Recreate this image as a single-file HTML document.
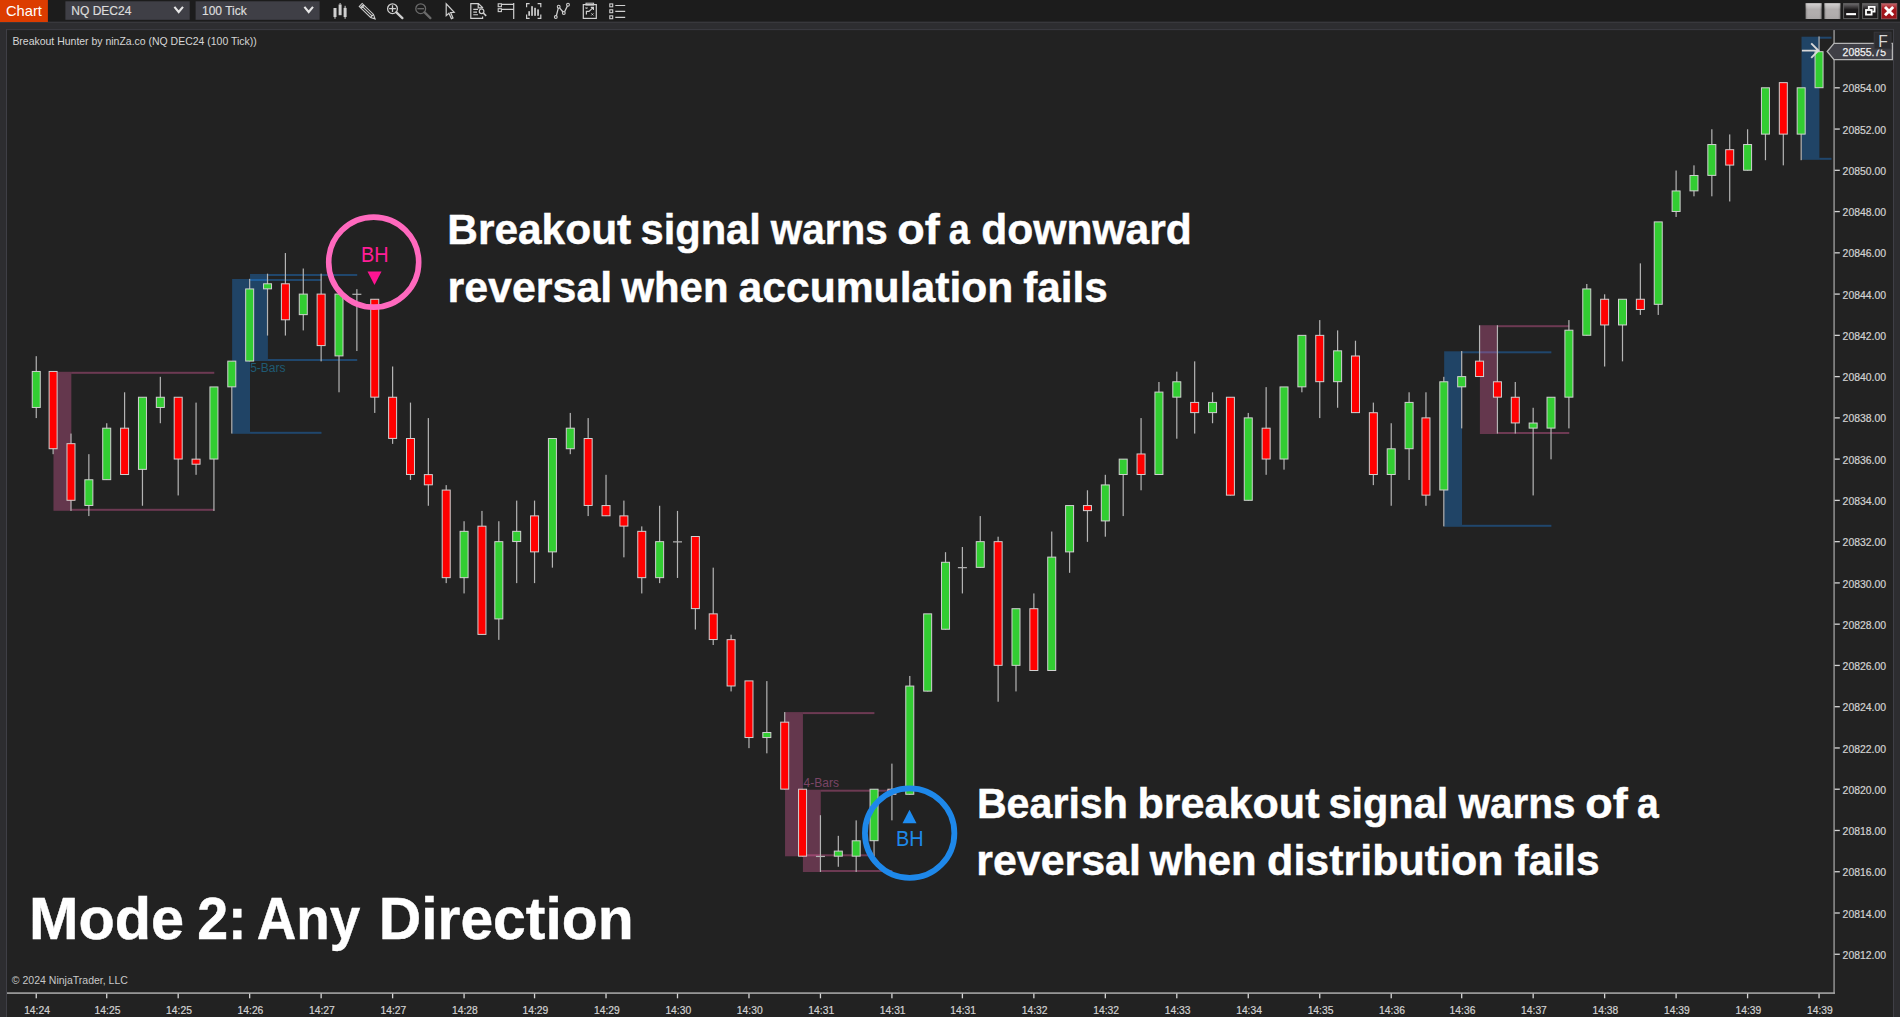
<!DOCTYPE html>
<html lang="en"><head><meta charset="utf-8"><title>Chart</title>
<style>
html,body{margin:0;padding:0;background:#222222;overflow:hidden}
body{width:1900px;height:1017px;position:relative;font-family:"Liberation Sans",Arial,sans-serif}
svg{position:absolute;left:0;top:0;display:block}
text{font-family:"Liberation Sans",Arial,sans-serif}
.ax{fill:#d2d2d2;font-size:10.67px;stroke:#d2d2d2;stroke-width:0.2px}
.big{fill:#ffffff;font-weight:bold;stroke:#ffffff;stroke-width:0.45px}
</style></head><body>
<svg width="1900" height="1017" viewBox="0 0 1900 1017">

<rect x="0" y="0" width="1900" height="1017" fill="#222222"/>
<g id="zones">
<rect x="53.47" y="371.80" width="17.87" height="139.00" fill="rgb(255,105,180)" fill-opacity="0.3"/>
<rect x="71.34" y="371.80" width="142.94" height="2.0" fill="rgb(255,105,180)" fill-opacity="0.34"/>
<rect x="71.34" y="508.80" width="142.94" height="2.0" fill="rgb(255,105,180)" fill-opacity="0.34"/>
<rect x="232.15" y="279.00" width="17.87" height="154.80" fill="rgb(30,144,255)" fill-opacity="0.31"/>
<rect x="250.02" y="279.00" width="71.47" height="2.0" fill="rgb(30,144,255)" fill-opacity="0.34"/>
<rect x="250.02" y="431.80" width="71.47" height="2.0" fill="rgb(30,144,255)" fill-opacity="0.34"/>
<rect x="250.02" y="274.00" width="17.87" height="87.00" fill="rgb(30,144,255)" fill-opacity="0.31"/>
<rect x="267.88" y="274.00" width="89.34" height="2.0" fill="rgb(30,144,255)" fill-opacity="0.34"/>
<rect x="267.88" y="359.00" width="89.34" height="2.0" fill="rgb(30,144,255)" fill-opacity="0.34"/>
<rect x="785.06" y="712.10" width="17.87" height="144.20" fill="rgb(255,105,180)" fill-opacity="0.3"/>
<rect x="802.92" y="712.10" width="71.47" height="2.0" fill="rgb(255,105,180)" fill-opacity="0.34"/>
<rect x="802.92" y="854.30" width="71.47" height="2.0" fill="rgb(255,105,180)" fill-opacity="0.34"/>
<rect x="802.92" y="789.70" width="17.87" height="82.30" fill="rgb(255,105,180)" fill-opacity="0.3"/>
<rect x="820.79" y="789.70" width="71.47" height="2.0" fill="rgb(255,105,180)" fill-opacity="0.34"/>
<rect x="820.79" y="870.00" width="71.47" height="2.0" fill="rgb(255,105,180)" fill-opacity="0.34"/>
<rect x="1444.17" y="351.30" width="17.87" height="175.50" fill="rgb(30,144,255)" fill-opacity="0.31"/>
<rect x="1462.04" y="351.30" width="89.34" height="2.0" fill="rgb(30,144,255)" fill-opacity="0.34"/>
<rect x="1462.04" y="524.80" width="89.34" height="2.0" fill="rgb(30,144,255)" fill-opacity="0.34"/>
<rect x="1479.91" y="325.20" width="17.87" height="108.80" fill="rgb(255,105,180)" fill-opacity="0.3"/>
<rect x="1497.78" y="325.20" width="71.47" height="2.0" fill="rgb(255,105,180)" fill-opacity="0.34"/>
<rect x="1497.78" y="432.00" width="71.47" height="2.0" fill="rgb(255,105,180)" fill-opacity="0.34"/>
<rect x="1801.53" y="36.70" width="17.87" height="123.10" fill="rgb(30,144,255)" fill-opacity="0.31"/>
<rect x="1819.40" y="36.70" width="12.10" height="2.0" fill="rgb(30,144,255)" fill-opacity="0.34"/>
<rect x="1819.40" y="157.80" width="12.10" height="2.0" fill="rgb(30,144,255)" fill-opacity="0.34"/>
<text x="250.2" y="372.4" font-size="12" fill="#1f5a73">5-Bars</text>
<text x="803.6" y="787" font-size="12" fill="#7a4566">4-Bars</text>
</g>
<g id="candles">
<rect x="35.65" y="356.19" width="1.2" height="61.89" fill="#b4b4b4"/>
<rect x="32.25" y="371.46" width="8" height="36.00" fill="#32cd32" stroke="#d0d0d0" stroke-width="1"/>
<rect x="52.52" y="371.66" width="1.2" height="82.52" fill="#b4b4b4"/>
<rect x="49.12" y="371.46" width="8" height="77.26" fill="#ff0000" stroke="#d0d0d0" stroke-width="1"/>
<rect x="70.39" y="433.55" width="1.2" height="77.36" fill="#b4b4b4"/>
<rect x="66.99" y="443.67" width="8" height="56.63" fill="#ff0000" stroke="#d0d0d0" stroke-width="1"/>
<rect x="88.25" y="454.18" width="1.2" height="61.89" fill="#b4b4b4"/>
<rect x="84.85" y="479.77" width="8" height="25.69" fill="#32cd32" stroke="#d0d0d0" stroke-width="1"/>
<rect x="106.12" y="423.24" width="1.2" height="56.73" fill="#b4b4b4"/>
<rect x="102.72" y="428.19" width="8" height="51.47" fill="#32cd32" stroke="#d0d0d0" stroke-width="1"/>
<rect x="123.99" y="392.29" width="1.2" height="82.52" fill="#b4b4b4"/>
<rect x="120.59" y="428.19" width="8" height="46.32" fill="#ff0000" stroke="#d0d0d0" stroke-width="1"/>
<rect x="141.86" y="397.45" width="1.2" height="108.31" fill="#b4b4b4"/>
<rect x="138.46" y="397.25" width="8" height="72.10" fill="#32cd32" stroke="#d0d0d0" stroke-width="1"/>
<rect x="159.73" y="376.82" width="1.2" height="46.42" fill="#b4b4b4"/>
<rect x="156.33" y="397.25" width="8" height="10.21" fill="#32cd32" stroke="#d0d0d0" stroke-width="1"/>
<rect x="177.59" y="397.45" width="1.2" height="97.99" fill="#b4b4b4"/>
<rect x="174.19" y="397.25" width="8" height="61.79" fill="#ff0000" stroke="#d0d0d0" stroke-width="1"/>
<rect x="195.46" y="402.61" width="1.2" height="72.21" fill="#b4b4b4"/>
<rect x="192.06" y="459.14" width="8" height="5.06" fill="#ff0000" stroke="#d0d0d0" stroke-width="1"/>
<rect x="213.33" y="387.13" width="1.2" height="123.78" fill="#b4b4b4"/>
<rect x="209.93" y="386.94" width="8" height="72.10" fill="#32cd32" stroke="#d0d0d0" stroke-width="1"/>
<rect x="231.20" y="361.35" width="1.2" height="72.21" fill="#b4b4b4"/>
<rect x="227.80" y="361.15" width="8" height="25.69" fill="#32cd32" stroke="#d0d0d0" stroke-width="1"/>
<rect x="249.07" y="278.83" width="1.2" height="82.52" fill="#b4b4b4"/>
<rect x="245.67" y="288.94" width="8" height="72.10" fill="#32cd32" stroke="#d0d0d0" stroke-width="1"/>
<rect x="266.93" y="273.67" width="1.2" height="61.89" fill="#b4b4b4"/>
<rect x="263.53" y="283.79" width="8" height="5.06" fill="#32cd32" stroke="#d0d0d0" stroke-width="1"/>
<rect x="284.80" y="253.04" width="1.2" height="82.52" fill="#b4b4b4"/>
<rect x="281.40" y="283.79" width="8" height="36.00" fill="#ff0000" stroke="#d0d0d0" stroke-width="1"/>
<rect x="302.67" y="268.51" width="1.2" height="61.89" fill="#b4b4b4"/>
<rect x="299.27" y="294.10" width="8" height="20.53" fill="#32cd32" stroke="#d0d0d0" stroke-width="1"/>
<rect x="320.54" y="273.67" width="1.2" height="87.68" fill="#b4b4b4"/>
<rect x="317.14" y="294.10" width="8" height="51.48" fill="#ff0000" stroke="#d0d0d0" stroke-width="1"/>
<rect x="338.41" y="294.30" width="1.2" height="97.99" fill="#b4b4b4"/>
<rect x="335.01" y="294.10" width="8" height="61.79" fill="#32cd32" stroke="#d0d0d0" stroke-width="1"/>
<rect x="356.27" y="289.14" width="1.2" height="61.89" fill="#b4b4b4"/>
<rect x="352.37" y="293.70" width="9" height="1.2" fill="#b4b4b4"/>
<rect x="374.14" y="299.46" width="1.2" height="113.46" fill="#b4b4b4"/>
<rect x="370.74" y="299.26" width="8" height="97.89" fill="#ff0000" stroke="#d0d0d0" stroke-width="1"/>
<rect x="392.01" y="366.50" width="1.2" height="77.36" fill="#b4b4b4"/>
<rect x="388.61" y="397.25" width="8" height="41.16" fill="#ff0000" stroke="#d0d0d0" stroke-width="1"/>
<rect x="409.88" y="402.61" width="1.2" height="77.36" fill="#b4b4b4"/>
<rect x="406.48" y="438.51" width="8" height="36.00" fill="#ff0000" stroke="#d0d0d0" stroke-width="1"/>
<rect x="427.75" y="418.08" width="1.2" height="87.68" fill="#b4b4b4"/>
<rect x="424.35" y="474.61" width="8" height="10.21" fill="#ff0000" stroke="#d0d0d0" stroke-width="1"/>
<rect x="445.61" y="485.13" width="1.2" height="97.99" fill="#b4b4b4"/>
<rect x="442.21" y="490.08" width="8" height="87.58" fill="#ff0000" stroke="#d0d0d0" stroke-width="1"/>
<rect x="463.48" y="521.23" width="1.2" height="72.20" fill="#b4b4b4"/>
<rect x="460.08" y="531.34" width="8" height="46.32" fill="#32cd32" stroke="#d0d0d0" stroke-width="1"/>
<rect x="481.35" y="510.91" width="1.2" height="123.78" fill="#b4b4b4"/>
<rect x="477.95" y="526.19" width="8" height="108.21" fill="#ff0000" stroke="#d0d0d0" stroke-width="1"/>
<rect x="498.22" y="521.23" width="1.2" height="118.62" fill="#b4b4b4"/>
<rect x="494.82" y="541.66" width="8" height="77.26" fill="#32cd32" stroke="#d0d0d0" stroke-width="1"/>
<rect x="516.09" y="500.60" width="1.2" height="82.52" fill="#b4b4b4"/>
<rect x="512.69" y="531.34" width="8" height="10.21" fill="#32cd32" stroke="#d0d0d0" stroke-width="1"/>
<rect x="533.95" y="500.60" width="1.2" height="82.52" fill="#b4b4b4"/>
<rect x="530.55" y="515.87" width="8" height="36.00" fill="#ff0000" stroke="#d0d0d0" stroke-width="1"/>
<rect x="551.82" y="438.71" width="1.2" height="128.94" fill="#b4b4b4"/>
<rect x="548.42" y="438.51" width="8" height="113.36" fill="#32cd32" stroke="#d0d0d0" stroke-width="1"/>
<rect x="569.69" y="412.92" width="1.2" height="41.26" fill="#b4b4b4"/>
<rect x="566.29" y="428.19" width="8" height="20.53" fill="#32cd32" stroke="#d0d0d0" stroke-width="1"/>
<rect x="587.56" y="418.08" width="1.2" height="97.99" fill="#b4b4b4"/>
<rect x="584.16" y="438.51" width="8" height="66.95" fill="#ff0000" stroke="#d0d0d0" stroke-width="1"/>
<rect x="605.43" y="474.81" width="1.2" height="41.26" fill="#b4b4b4"/>
<rect x="602.03" y="505.56" width="8" height="10.21" fill="#ff0000" stroke="#d0d0d0" stroke-width="1"/>
<rect x="623.29" y="500.60" width="1.2" height="56.73" fill="#b4b4b4"/>
<rect x="619.89" y="515.87" width="8" height="10.22" fill="#ff0000" stroke="#d0d0d0" stroke-width="1"/>
<rect x="641.16" y="526.39" width="1.2" height="67.05" fill="#b4b4b4"/>
<rect x="637.76" y="531.34" width="8" height="46.32" fill="#ff0000" stroke="#d0d0d0" stroke-width="1"/>
<rect x="659.03" y="505.76" width="1.2" height="77.36" fill="#b4b4b4"/>
<rect x="655.63" y="541.66" width="8" height="36.00" fill="#32cd32" stroke="#d0d0d0" stroke-width="1"/>
<rect x="676.90" y="510.91" width="1.2" height="67.05" fill="#b4b4b4"/>
<rect x="673.00" y="541.26" width="9" height="1.2" fill="#b4b4b4"/>
<rect x="694.77" y="536.70" width="1.2" height="92.84" fill="#b4b4b4"/>
<rect x="691.37" y="536.50" width="8" height="72.11" fill="#ff0000" stroke="#d0d0d0" stroke-width="1"/>
<rect x="712.63" y="567.65" width="1.2" height="77.36" fill="#b4b4b4"/>
<rect x="709.23" y="613.86" width="8" height="25.69" fill="#ff0000" stroke="#d0d0d0" stroke-width="1"/>
<rect x="730.50" y="634.69" width="1.2" height="56.73" fill="#b4b4b4"/>
<rect x="727.10" y="639.65" width="8" height="46.32" fill="#ff0000" stroke="#d0d0d0" stroke-width="1"/>
<rect x="748.37" y="681.11" width="1.2" height="67.05" fill="#b4b4b4"/>
<rect x="744.97" y="680.91" width="8" height="56.63" fill="#ff0000" stroke="#d0d0d0" stroke-width="1"/>
<rect x="766.24" y="681.11" width="1.2" height="72.21" fill="#b4b4b4"/>
<rect x="762.84" y="732.49" width="8" height="5.06" fill="#32cd32" stroke="#d0d0d0" stroke-width="1"/>
<rect x="784.11" y="712.06" width="1.2" height="77.36" fill="#b4b4b4"/>
<rect x="780.71" y="722.17" width="8" height="66.95" fill="#ff0000" stroke="#d0d0d0" stroke-width="1"/>
<rect x="801.97" y="789.42" width="1.2" height="67.05" fill="#b4b4b4"/>
<rect x="798.57" y="789.22" width="8" height="66.95" fill="#ff0000" stroke="#d0d0d0" stroke-width="1"/>
<rect x="819.84" y="815.21" width="1.2" height="56.73" fill="#b4b4b4"/>
<rect x="815.94" y="855.87" width="9" height="1.2" fill="#b4b4b4"/>
<rect x="837.71" y="835.84" width="1.2" height="30.94" fill="#b4b4b4"/>
<rect x="834.31" y="851.11" width="8" height="5.06" fill="#32cd32" stroke="#d0d0d0" stroke-width="1"/>
<rect x="855.58" y="820.37" width="1.2" height="51.57" fill="#b4b4b4"/>
<rect x="852.18" y="840.79" width="8" height="15.37" fill="#32cd32" stroke="#d0d0d0" stroke-width="1"/>
<rect x="873.45" y="789.42" width="1.2" height="67.05" fill="#b4b4b4"/>
<rect x="870.05" y="789.22" width="8" height="51.48" fill="#32cd32" stroke="#d0d0d0" stroke-width="1"/>
<rect x="891.31" y="763.63" width="1.2" height="56.73" fill="#b4b4b4"/>
<rect x="887.91" y="789.22" width="8" height="5.06" fill="#ff0000" stroke="#d0d0d0" stroke-width="1"/>
<rect x="909.18" y="675.95" width="1.2" height="118.62" fill="#b4b4b4"/>
<rect x="905.78" y="686.07" width="8" height="108.21" fill="#32cd32" stroke="#d0d0d0" stroke-width="1"/>
<rect x="927.05" y="614.06" width="1.2" height="77.36" fill="#b4b4b4"/>
<rect x="923.65" y="613.86" width="8" height="77.26" fill="#32cd32" stroke="#d0d0d0" stroke-width="1"/>
<rect x="944.92" y="552.17" width="1.2" height="77.36" fill="#b4b4b4"/>
<rect x="941.52" y="562.29" width="8" height="66.95" fill="#32cd32" stroke="#d0d0d0" stroke-width="1"/>
<rect x="961.79" y="547.02" width="1.2" height="46.42" fill="#b4b4b4"/>
<rect x="957.89" y="567.05" width="9" height="1.2" fill="#b4b4b4"/>
<rect x="979.65" y="516.07" width="1.2" height="51.58" fill="#b4b4b4"/>
<rect x="976.25" y="541.66" width="8" height="25.69" fill="#32cd32" stroke="#d0d0d0" stroke-width="1"/>
<rect x="997.52" y="536.70" width="1.2" height="165.04" fill="#b4b4b4"/>
<rect x="994.12" y="541.66" width="8" height="123.68" fill="#ff0000" stroke="#d0d0d0" stroke-width="1"/>
<rect x="1015.39" y="608.91" width="1.2" height="82.52" fill="#b4b4b4"/>
<rect x="1011.99" y="608.71" width="8" height="56.63" fill="#32cd32" stroke="#d0d0d0" stroke-width="1"/>
<rect x="1033.26" y="593.43" width="1.2" height="77.36" fill="#b4b4b4"/>
<rect x="1029.86" y="608.71" width="8" height="61.79" fill="#ff0000" stroke="#d0d0d0" stroke-width="1"/>
<rect x="1051.13" y="531.54" width="1.2" height="139.25" fill="#b4b4b4"/>
<rect x="1047.73" y="557.13" width="8" height="113.37" fill="#32cd32" stroke="#d0d0d0" stroke-width="1"/>
<rect x="1068.99" y="505.76" width="1.2" height="67.05" fill="#b4b4b4"/>
<rect x="1065.59" y="505.56" width="8" height="46.32" fill="#32cd32" stroke="#d0d0d0" stroke-width="1"/>
<rect x="1086.86" y="490.28" width="1.2" height="51.57" fill="#b4b4b4"/>
<rect x="1083.46" y="505.56" width="8" height="5.06" fill="#ff0000" stroke="#d0d0d0" stroke-width="1"/>
<rect x="1104.73" y="474.81" width="1.2" height="61.89" fill="#b4b4b4"/>
<rect x="1101.33" y="484.93" width="8" height="36.00" fill="#32cd32" stroke="#d0d0d0" stroke-width="1"/>
<rect x="1122.60" y="459.34" width="1.2" height="56.73" fill="#b4b4b4"/>
<rect x="1119.20" y="459.14" width="8" height="15.37" fill="#32cd32" stroke="#d0d0d0" stroke-width="1"/>
<rect x="1140.47" y="418.08" width="1.2" height="72.20" fill="#b4b4b4"/>
<rect x="1137.07" y="453.98" width="8" height="20.53" fill="#ff0000" stroke="#d0d0d0" stroke-width="1"/>
<rect x="1158.33" y="381.98" width="1.2" height="92.84" fill="#b4b4b4"/>
<rect x="1154.93" y="392.09" width="8" height="82.42" fill="#32cd32" stroke="#d0d0d0" stroke-width="1"/>
<rect x="1176.20" y="371.66" width="1.2" height="67.05" fill="#b4b4b4"/>
<rect x="1172.80" y="381.78" width="8" height="15.37" fill="#32cd32" stroke="#d0d0d0" stroke-width="1"/>
<rect x="1194.07" y="361.35" width="1.2" height="72.21" fill="#b4b4b4"/>
<rect x="1190.67" y="402.41" width="8" height="10.21" fill="#ff0000" stroke="#d0d0d0" stroke-width="1"/>
<rect x="1211.94" y="392.29" width="1.2" height="30.95" fill="#b4b4b4"/>
<rect x="1208.54" y="402.41" width="8" height="10.21" fill="#32cd32" stroke="#d0d0d0" stroke-width="1"/>
<rect x="1229.81" y="397.45" width="1.2" height="97.99" fill="#b4b4b4"/>
<rect x="1226.41" y="397.25" width="8" height="97.89" fill="#ff0000" stroke="#d0d0d0" stroke-width="1"/>
<rect x="1247.67" y="412.92" width="1.2" height="87.68" fill="#b4b4b4"/>
<rect x="1244.27" y="417.88" width="8" height="82.42" fill="#32cd32" stroke="#d0d0d0" stroke-width="1"/>
<rect x="1265.54" y="387.13" width="1.2" height="87.68" fill="#b4b4b4"/>
<rect x="1262.14" y="428.19" width="8" height="30.84" fill="#ff0000" stroke="#d0d0d0" stroke-width="1"/>
<rect x="1283.41" y="387.13" width="1.2" height="82.52" fill="#b4b4b4"/>
<rect x="1280.01" y="386.94" width="8" height="72.10" fill="#32cd32" stroke="#d0d0d0" stroke-width="1"/>
<rect x="1301.28" y="335.56" width="1.2" height="56.73" fill="#b4b4b4"/>
<rect x="1297.88" y="335.36" width="8" height="51.47" fill="#32cd32" stroke="#d0d0d0" stroke-width="1"/>
<rect x="1319.15" y="320.09" width="1.2" height="97.99" fill="#b4b4b4"/>
<rect x="1315.75" y="335.36" width="8" height="46.32" fill="#ff0000" stroke="#d0d0d0" stroke-width="1"/>
<rect x="1337.01" y="330.40" width="1.2" height="77.36" fill="#b4b4b4"/>
<rect x="1333.61" y="350.83" width="8" height="30.84" fill="#32cd32" stroke="#d0d0d0" stroke-width="1"/>
<rect x="1354.88" y="340.72" width="1.2" height="72.20" fill="#b4b4b4"/>
<rect x="1351.48" y="355.99" width="8" height="56.63" fill="#ff0000" stroke="#d0d0d0" stroke-width="1"/>
<rect x="1372.75" y="402.61" width="1.2" height="82.52" fill="#b4b4b4"/>
<rect x="1369.35" y="412.72" width="8" height="61.79" fill="#ff0000" stroke="#d0d0d0" stroke-width="1"/>
<rect x="1390.62" y="423.24" width="1.2" height="82.52" fill="#b4b4b4"/>
<rect x="1387.22" y="448.82" width="8" height="25.69" fill="#32cd32" stroke="#d0d0d0" stroke-width="1"/>
<rect x="1408.49" y="392.29" width="1.2" height="87.68" fill="#b4b4b4"/>
<rect x="1405.09" y="402.41" width="8" height="46.32" fill="#32cd32" stroke="#d0d0d0" stroke-width="1"/>
<rect x="1425.35" y="392.29" width="1.2" height="113.47" fill="#b4b4b4"/>
<rect x="1421.95" y="417.88" width="8" height="77.26" fill="#ff0000" stroke="#d0d0d0" stroke-width="1"/>
<rect x="1443.22" y="376.82" width="1.2" height="149.57" fill="#b4b4b4"/>
<rect x="1439.82" y="381.78" width="8" height="108.21" fill="#32cd32" stroke="#d0d0d0" stroke-width="1"/>
<rect x="1461.09" y="351.03" width="1.2" height="77.36" fill="#b4b4b4"/>
<rect x="1457.69" y="376.62" width="8" height="10.21" fill="#32cd32" stroke="#d0d0d0" stroke-width="1"/>
<rect x="1478.96" y="325.25" width="1.2" height="51.57" fill="#b4b4b4"/>
<rect x="1475.56" y="361.15" width="8" height="15.37" fill="#ff0000" stroke="#d0d0d0" stroke-width="1"/>
<rect x="1496.83" y="325.25" width="1.2" height="108.31" fill="#b4b4b4"/>
<rect x="1493.43" y="381.78" width="8" height="15.37" fill="#ff0000" stroke="#d0d0d0" stroke-width="1"/>
<rect x="1514.69" y="381.98" width="1.2" height="51.58" fill="#b4b4b4"/>
<rect x="1511.29" y="397.25" width="8" height="25.69" fill="#ff0000" stroke="#d0d0d0" stroke-width="1"/>
<rect x="1532.56" y="407.76" width="1.2" height="87.68" fill="#b4b4b4"/>
<rect x="1529.16" y="423.04" width="8" height="5.06" fill="#32cd32" stroke="#d0d0d0" stroke-width="1"/>
<rect x="1550.43" y="397.45" width="1.2" height="61.89" fill="#b4b4b4"/>
<rect x="1547.03" y="397.25" width="8" height="30.84" fill="#32cd32" stroke="#d0d0d0" stroke-width="1"/>
<rect x="1568.30" y="320.09" width="1.2" height="108.31" fill="#b4b4b4"/>
<rect x="1564.90" y="330.20" width="8" height="66.95" fill="#32cd32" stroke="#d0d0d0" stroke-width="1"/>
<rect x="1586.17" y="283.99" width="1.2" height="51.57" fill="#b4b4b4"/>
<rect x="1582.77" y="288.94" width="8" height="46.32" fill="#32cd32" stroke="#d0d0d0" stroke-width="1"/>
<rect x="1604.03" y="294.30" width="1.2" height="72.21" fill="#b4b4b4"/>
<rect x="1600.63" y="299.26" width="8" height="25.69" fill="#ff0000" stroke="#d0d0d0" stroke-width="1"/>
<rect x="1621.90" y="299.46" width="1.2" height="61.89" fill="#b4b4b4"/>
<rect x="1618.50" y="299.26" width="8" height="25.69" fill="#32cd32" stroke="#d0d0d0" stroke-width="1"/>
<rect x="1639.77" y="263.36" width="1.2" height="51.57" fill="#b4b4b4"/>
<rect x="1636.37" y="299.26" width="8" height="10.21" fill="#ff0000" stroke="#d0d0d0" stroke-width="1"/>
<rect x="1657.64" y="222.09" width="1.2" height="92.83" fill="#b4b4b4"/>
<rect x="1654.24" y="221.90" width="8" height="82.42" fill="#32cd32" stroke="#d0d0d0" stroke-width="1"/>
<rect x="1675.51" y="170.52" width="1.2" height="46.42" fill="#b4b4b4"/>
<rect x="1672.11" y="190.95" width="8" height="20.53" fill="#32cd32" stroke="#d0d0d0" stroke-width="1"/>
<rect x="1693.37" y="165.36" width="1.2" height="30.94" fill="#b4b4b4"/>
<rect x="1689.97" y="175.48" width="8" height="15.37" fill="#32cd32" stroke="#d0d0d0" stroke-width="1"/>
<rect x="1711.24" y="129.26" width="1.2" height="67.05" fill="#b4b4b4"/>
<rect x="1707.84" y="144.53" width="8" height="30.85" fill="#32cd32" stroke="#d0d0d0" stroke-width="1"/>
<rect x="1729.11" y="134.42" width="1.2" height="67.05" fill="#b4b4b4"/>
<rect x="1725.71" y="149.69" width="8" height="15.37" fill="#ff0000" stroke="#d0d0d0" stroke-width="1"/>
<rect x="1746.98" y="129.26" width="1.2" height="41.26" fill="#b4b4b4"/>
<rect x="1743.58" y="144.53" width="8" height="25.69" fill="#32cd32" stroke="#d0d0d0" stroke-width="1"/>
<rect x="1764.85" y="88.00" width="1.2" height="72.20" fill="#b4b4b4"/>
<rect x="1761.45" y="87.80" width="8" height="46.32" fill="#32cd32" stroke="#d0d0d0" stroke-width="1"/>
<rect x="1782.71" y="82.84" width="1.2" height="82.52" fill="#b4b4b4"/>
<rect x="1779.31" y="82.64" width="8" height="51.47" fill="#ff0000" stroke="#d0d0d0" stroke-width="1"/>
<rect x="1800.58" y="88.00" width="1.2" height="72.20" fill="#b4b4b4"/>
<rect x="1797.18" y="87.80" width="8" height="46.32" fill="#32cd32" stroke="#d0d0d0" stroke-width="1"/>
<rect x="1818.45" y="36.43" width="1.2" height="51.57" fill="#b4b4b4"/>
<rect x="1815.05" y="51.70" width="8" height="36.00" fill="#32cd32" stroke="#d0d0d0" stroke-width="1"/>
</g>
<g id="axes">
<rect x="1833.3" y="30" width="1.6" height="963.8" fill="#8a8a8a"/>
<rect x="7" y="992.3" width="1827.9" height="1.6" fill="#a4a4a4"/>
<rect x="1834.6" y="87.15" width="5.2" height="1.3" fill="#d4d4d4"/>
<text class="ax" x="1842.6" y="92.40" textLength="43.5" lengthAdjust="spacingAndGlyphs">20854.00</text>
<rect x="1834.6" y="128.41" width="5.2" height="1.3" fill="#d4d4d4"/>
<text class="ax" x="1842.6" y="133.66" textLength="43.5" lengthAdjust="spacingAndGlyphs">20852.00</text>
<rect x="1834.6" y="169.67" width="5.2" height="1.3" fill="#d4d4d4"/>
<text class="ax" x="1842.6" y="174.92" textLength="43.5" lengthAdjust="spacingAndGlyphs">20850.00</text>
<rect x="1834.6" y="210.93" width="5.2" height="1.3" fill="#d4d4d4"/>
<text class="ax" x="1842.6" y="216.18" textLength="43.5" lengthAdjust="spacingAndGlyphs">20848.00</text>
<rect x="1834.6" y="252.19" width="5.2" height="1.3" fill="#d4d4d4"/>
<text class="ax" x="1842.6" y="257.44" textLength="43.5" lengthAdjust="spacingAndGlyphs">20846.00</text>
<rect x="1834.6" y="293.45" width="5.2" height="1.3" fill="#d4d4d4"/>
<text class="ax" x="1842.6" y="298.70" textLength="43.5" lengthAdjust="spacingAndGlyphs">20844.00</text>
<rect x="1834.6" y="334.71" width="5.2" height="1.3" fill="#d4d4d4"/>
<text class="ax" x="1842.6" y="339.96" textLength="43.5" lengthAdjust="spacingAndGlyphs">20842.00</text>
<rect x="1834.6" y="375.97" width="5.2" height="1.3" fill="#d4d4d4"/>
<text class="ax" x="1842.6" y="381.22" textLength="43.5" lengthAdjust="spacingAndGlyphs">20840.00</text>
<rect x="1834.6" y="417.23" width="5.2" height="1.3" fill="#d4d4d4"/>
<text class="ax" x="1842.6" y="422.48" textLength="43.5" lengthAdjust="spacingAndGlyphs">20838.00</text>
<rect x="1834.6" y="458.49" width="5.2" height="1.3" fill="#d4d4d4"/>
<text class="ax" x="1842.6" y="463.74" textLength="43.5" lengthAdjust="spacingAndGlyphs">20836.00</text>
<rect x="1834.6" y="499.75" width="5.2" height="1.3" fill="#d4d4d4"/>
<text class="ax" x="1842.6" y="505.00" textLength="43.5" lengthAdjust="spacingAndGlyphs">20834.00</text>
<rect x="1834.6" y="541.01" width="5.2" height="1.3" fill="#d4d4d4"/>
<text class="ax" x="1842.6" y="546.26" textLength="43.5" lengthAdjust="spacingAndGlyphs">20832.00</text>
<rect x="1834.6" y="582.27" width="5.2" height="1.3" fill="#d4d4d4"/>
<text class="ax" x="1842.6" y="587.52" textLength="43.5" lengthAdjust="spacingAndGlyphs">20830.00</text>
<rect x="1834.6" y="623.53" width="5.2" height="1.3" fill="#d4d4d4"/>
<text class="ax" x="1842.6" y="628.78" textLength="43.5" lengthAdjust="spacingAndGlyphs">20828.00</text>
<rect x="1834.6" y="664.79" width="5.2" height="1.3" fill="#d4d4d4"/>
<text class="ax" x="1842.6" y="670.04" textLength="43.5" lengthAdjust="spacingAndGlyphs">20826.00</text>
<rect x="1834.6" y="706.05" width="5.2" height="1.3" fill="#d4d4d4"/>
<text class="ax" x="1842.6" y="711.30" textLength="43.5" lengthAdjust="spacingAndGlyphs">20824.00</text>
<rect x="1834.6" y="747.31" width="5.2" height="1.3" fill="#d4d4d4"/>
<text class="ax" x="1842.6" y="752.56" textLength="43.5" lengthAdjust="spacingAndGlyphs">20822.00</text>
<rect x="1834.6" y="788.57" width="5.2" height="1.3" fill="#d4d4d4"/>
<text class="ax" x="1842.6" y="793.82" textLength="43.5" lengthAdjust="spacingAndGlyphs">20820.00</text>
<rect x="1834.6" y="829.83" width="5.2" height="1.3" fill="#d4d4d4"/>
<text class="ax" x="1842.6" y="835.08" textLength="43.5" lengthAdjust="spacingAndGlyphs">20818.00</text>
<rect x="1834.6" y="871.09" width="5.2" height="1.3" fill="#d4d4d4"/>
<text class="ax" x="1842.6" y="876.34" textLength="43.5" lengthAdjust="spacingAndGlyphs">20816.00</text>
<rect x="1834.6" y="912.35" width="5.2" height="1.3" fill="#d4d4d4"/>
<text class="ax" x="1842.6" y="917.60" textLength="43.5" lengthAdjust="spacingAndGlyphs">20814.00</text>
<rect x="1834.6" y="953.61" width="5.2" height="1.3" fill="#d4d4d4"/>
<text class="ax" x="1842.6" y="958.86" textLength="43.5" lengthAdjust="spacingAndGlyphs">20812.00</text>
<rect x="35.60" y="993.6" width="1.3" height="4.7" fill="#d4d4d4"/>
<text class="ax" x="37.05" y="1014.2" text-anchor="middle" textLength="25.8" lengthAdjust="spacingAndGlyphs">14:24</text>
<rect x="106.07" y="993.6" width="1.3" height="4.7" fill="#d4d4d4"/>
<text class="ax" x="107.52" y="1014.2" text-anchor="middle" textLength="25.8" lengthAdjust="spacingAndGlyphs">14:25</text>
<rect x="177.54" y="993.6" width="1.3" height="4.7" fill="#d4d4d4"/>
<text class="ax" x="178.99" y="1014.2" text-anchor="middle" textLength="25.8" lengthAdjust="spacingAndGlyphs">14:25</text>
<rect x="249.02" y="993.6" width="1.3" height="4.7" fill="#d4d4d4"/>
<text class="ax" x="250.47" y="1014.2" text-anchor="middle" textLength="25.8" lengthAdjust="spacingAndGlyphs">14:26</text>
<rect x="320.49" y="993.6" width="1.3" height="4.7" fill="#d4d4d4"/>
<text class="ax" x="321.94" y="1014.2" text-anchor="middle" textLength="25.8" lengthAdjust="spacingAndGlyphs">14:27</text>
<rect x="391.96" y="993.6" width="1.3" height="4.7" fill="#d4d4d4"/>
<text class="ax" x="393.41" y="1014.2" text-anchor="middle" textLength="25.8" lengthAdjust="spacingAndGlyphs">14:27</text>
<rect x="463.43" y="993.6" width="1.3" height="4.7" fill="#d4d4d4"/>
<text class="ax" x="464.88" y="1014.2" text-anchor="middle" textLength="25.8" lengthAdjust="spacingAndGlyphs">14:28</text>
<rect x="533.90" y="993.6" width="1.3" height="4.7" fill="#d4d4d4"/>
<text class="ax" x="535.35" y="1014.2" text-anchor="middle" textLength="25.8" lengthAdjust="spacingAndGlyphs">14:29</text>
<rect x="605.38" y="993.6" width="1.3" height="4.7" fill="#d4d4d4"/>
<text class="ax" x="606.83" y="1014.2" text-anchor="middle" textLength="25.8" lengthAdjust="spacingAndGlyphs">14:29</text>
<rect x="676.85" y="993.6" width="1.3" height="4.7" fill="#d4d4d4"/>
<text class="ax" x="678.30" y="1014.2" text-anchor="middle" textLength="25.8" lengthAdjust="spacingAndGlyphs">14:30</text>
<rect x="748.32" y="993.6" width="1.3" height="4.7" fill="#d4d4d4"/>
<text class="ax" x="749.77" y="1014.2" text-anchor="middle" textLength="25.8" lengthAdjust="spacingAndGlyphs">14:30</text>
<rect x="819.79" y="993.6" width="1.3" height="4.7" fill="#d4d4d4"/>
<text class="ax" x="821.24" y="1014.2" text-anchor="middle" textLength="25.8" lengthAdjust="spacingAndGlyphs">14:31</text>
<rect x="891.26" y="993.6" width="1.3" height="4.7" fill="#d4d4d4"/>
<text class="ax" x="892.71" y="1014.2" text-anchor="middle" textLength="25.8" lengthAdjust="spacingAndGlyphs">14:31</text>
<rect x="961.74" y="993.6" width="1.3" height="4.7" fill="#d4d4d4"/>
<text class="ax" x="963.19" y="1014.2" text-anchor="middle" textLength="25.8" lengthAdjust="spacingAndGlyphs">14:31</text>
<rect x="1033.21" y="993.6" width="1.3" height="4.7" fill="#d4d4d4"/>
<text class="ax" x="1034.66" y="1014.2" text-anchor="middle" textLength="25.8" lengthAdjust="spacingAndGlyphs">14:32</text>
<rect x="1104.68" y="993.6" width="1.3" height="4.7" fill="#d4d4d4"/>
<text class="ax" x="1106.13" y="1014.2" text-anchor="middle" textLength="25.8" lengthAdjust="spacingAndGlyphs">14:32</text>
<rect x="1176.15" y="993.6" width="1.3" height="4.7" fill="#d4d4d4"/>
<text class="ax" x="1177.60" y="1014.2" text-anchor="middle" textLength="25.8" lengthAdjust="spacingAndGlyphs">14:33</text>
<rect x="1247.62" y="993.6" width="1.3" height="4.7" fill="#d4d4d4"/>
<text class="ax" x="1249.07" y="1014.2" text-anchor="middle" textLength="25.8" lengthAdjust="spacingAndGlyphs">14:34</text>
<rect x="1319.10" y="993.6" width="1.3" height="4.7" fill="#d4d4d4"/>
<text class="ax" x="1320.55" y="1014.2" text-anchor="middle" textLength="25.8" lengthAdjust="spacingAndGlyphs">14:35</text>
<rect x="1390.57" y="993.6" width="1.3" height="4.7" fill="#d4d4d4"/>
<text class="ax" x="1392.02" y="1014.2" text-anchor="middle" textLength="25.8" lengthAdjust="spacingAndGlyphs">14:36</text>
<rect x="1461.04" y="993.6" width="1.3" height="4.7" fill="#d4d4d4"/>
<text class="ax" x="1462.49" y="1014.2" text-anchor="middle" textLength="25.8" lengthAdjust="spacingAndGlyphs">14:36</text>
<rect x="1532.51" y="993.6" width="1.3" height="4.7" fill="#d4d4d4"/>
<text class="ax" x="1533.96" y="1014.2" text-anchor="middle" textLength="25.8" lengthAdjust="spacingAndGlyphs">14:37</text>
<rect x="1603.98" y="993.6" width="1.3" height="4.7" fill="#d4d4d4"/>
<text class="ax" x="1605.43" y="1014.2" text-anchor="middle" textLength="25.8" lengthAdjust="spacingAndGlyphs">14:38</text>
<rect x="1675.46" y="993.6" width="1.3" height="4.7" fill="#d4d4d4"/>
<text class="ax" x="1676.91" y="1014.2" text-anchor="middle" textLength="25.8" lengthAdjust="spacingAndGlyphs">14:39</text>
<rect x="1746.93" y="993.6" width="1.3" height="4.7" fill="#d4d4d4"/>
<text class="ax" x="1748.38" y="1014.2" text-anchor="middle" textLength="25.8" lengthAdjust="spacingAndGlyphs">14:39</text>
<rect x="1818.40" y="993.6" width="1.3" height="4.7" fill="#d4d4d4"/>
<text class="ax" x="1819.85" y="1014.2" text-anchor="middle" textLength="25.8" lengthAdjust="spacingAndGlyphs">14:39</text>
</g>
<g id="marker">
<path d="M1827.2 51.5 L1834 43.4 L1892.4 43.4 L1892.4 59.7 L1834 59.7 Z" fill="#3f3f46" stroke="#b4b4b4" stroke-width="1.3" stroke-linejoin="miter"/>
<text x="1842.6" y="55.6" font-size="10.67" fill="#f0f0f0" stroke="#f0f0f0" stroke-width="0.25" textLength="43.5" lengthAdjust="spacingAndGlyphs">20855.75</text>
<path d="M1801.9 50.6 H1818 M1811.2 43.3 L1818.4 50.6 L1811.2 57.8" fill="none" stroke="#d8d8d8" stroke-width="1.9"/>
<rect x="1874.2" y="32.2" width="16.8" height="16.8" fill="#2d2d30" stroke="#38383c" stroke-width="1"/>
<text x="1878.3" y="46.9" font-size="15.6" fill="#d8d8d8">F</text>
</g>
<g id="annot">
<circle cx="373.7" cy="262.15" r="45" fill="none" stroke="#ff69be" stroke-width="5.6"/>
<text x="374.7" y="262.4" font-size="21.4" fill="#ff1e96" text-anchor="middle" textLength="27.6" lengthAdjust="spacingAndGlyphs">BH</text>
<path d="M367.5 271.4 H381.5 L374.5 285 Z" fill="#ff1493"/>
<circle cx="909.65" cy="833.15" r="44.7" fill="none" stroke="#1e88ea" stroke-width="5.8"/>
<text x="909.7" y="845.8" font-size="21.2" fill="#1e88ea" text-anchor="middle" textLength="27.6" lengthAdjust="spacingAndGlyphs">BH</text>
<path d="M902.5 823.2 H916.5 L909.5 809.8 Z" fill="#1e8cf0"/>
<text class="big" x="447.28" y="244.3" font-size="42.5" textLength="183.91" lengthAdjust="spacingAndGlyphs">Breakout</text>
<text class="big" x="640.47" y="244.3" font-size="42.5" textLength="120.38" lengthAdjust="spacingAndGlyphs">signal</text>
<text class="big" x="770.87" y="244.3" font-size="42.5" textLength="117.01" lengthAdjust="spacingAndGlyphs">warns</text>
<text class="big" x="897.38" y="244.3" font-size="42.5" textLength="42.47" lengthAdjust="spacingAndGlyphs">of</text>
<text class="big" x="948.83" y="244.3" font-size="42.5" textLength="21.03" lengthAdjust="spacingAndGlyphs">a</text>
<text class="big" x="981.35" y="244.3" font-size="42.5" textLength="210.50" lengthAdjust="spacingAndGlyphs">downward</text>
<text class="big" x="447.55" y="301.5" font-size="42.5" textLength="164.65" lengthAdjust="spacingAndGlyphs">reversal</text>
<text class="big" x="621.43" y="301.5" font-size="42.5" textLength="107.08" lengthAdjust="spacingAndGlyphs">when</text>
<text class="big" x="738.51" y="301.5" font-size="42.5" textLength="274.82" lengthAdjust="spacingAndGlyphs">accumulation</text>
<text class="big" x="1023.23" y="301.5" font-size="42.5" textLength="84.58" lengthAdjust="spacingAndGlyphs">fails</text>
<text class="big" x="976.88" y="818.1" font-size="42.5" textLength="151.02" lengthAdjust="spacingAndGlyphs">Bearish</text>
<text class="big" x="1137.48" y="818.1" font-size="42.5" textLength="182.01" lengthAdjust="spacingAndGlyphs">breakout</text>
<text class="big" x="1328.47" y="818.1" font-size="42.5" textLength="119.74" lengthAdjust="spacingAndGlyphs">signal</text>
<text class="big" x="1458.40" y="818.1" font-size="42.5" textLength="117.14" lengthAdjust="spacingAndGlyphs">warns</text>
<text class="big" x="1585.38" y="818.1" font-size="42.5" textLength="42.47" lengthAdjust="spacingAndGlyphs">of</text>
<text class="big" x="1636.94" y="818.1" font-size="42.5" textLength="21.72" lengthAdjust="spacingAndGlyphs">a</text>
<text class="big" x="976.37" y="875.2" font-size="42.5" textLength="164.44" lengthAdjust="spacingAndGlyphs">reversal</text>
<text class="big" x="1149.66" y="875.2" font-size="42.5" textLength="106.98" lengthAdjust="spacingAndGlyphs">when</text>
<text class="big" x="1267.11" y="875.2" font-size="42.5" textLength="236.49" lengthAdjust="spacingAndGlyphs">distribution</text>
<text class="big" x="1514.49" y="875.2" font-size="42.5" textLength="85.10" lengthAdjust="spacingAndGlyphs">fails</text>
<text class="big" x="29.02" y="939.0" font-size="58.3" textLength="155.15" lengthAdjust="spacingAndGlyphs">Mode</text>
<text class="big" x="197.18" y="939.0" font-size="58.3" textLength="49.40" lengthAdjust="spacingAndGlyphs">2:</text>
<text class="big" x="256.75" y="939.0" font-size="58.3" textLength="103.63" lengthAdjust="spacingAndGlyphs">Any</text>
<text class="big" x="378.75" y="939.0" font-size="58.3" textLength="254.80" lengthAdjust="spacingAndGlyphs">Direction</text>
</g>
<text x="12.4" y="45" font-size="10.67" fill="#d6d6d6" textLength="244.3" lengthAdjust="spacingAndGlyphs">Breakout Hunter by ninZa.co (NQ DEC24 (100 Tick))</text>
<text x="11.8" y="983.7" font-size="10.67" fill="#c8c8c8" textLength="116.1" lengthAdjust="spacingAndGlyphs">© 2024 NinjaTrader, LLC</text>
<g id="chrome">
<rect x="0" y="0" width="1900" height="22" fill="#1c1c1c"/>
<rect x="0" y="21.6" width="1900" height="1.4" fill="#38383c"/>
<rect x="0" y="23" width="1900" height="6.3" fill="#2d2d30"/>
<rect x="0" y="23" width="6" height="994" fill="#2d2d30"/>
<rect x="1894" y="23" width="6" height="994" fill="#2d2d30"/>
<rect x="6" y="29.2" width="1888" height="0.9" fill="#3f3f46"/>
<rect x="6" y="29.2" width="1" height="988" fill="#3f3f46"/>
<rect x="1893" y="29.2" width="1" height="988" fill="#3f3f46"/>
<rect x="0" y="0" width="47.9" height="22" fill="#dc3c00"/>
<text x="5.9" y="15.8" font-size="14.2" fill="#ffffff" textLength="36" lengthAdjust="spacingAndGlyphs">Chart</text>
<rect x="65.4" y="1.3" width="124.3" height="18.5" fill="#3f3f46"/>
<text x="71.3" y="15.1" font-size="12" fill="#dcdcdc" stroke="#dcdcdc" stroke-width="0.2">NQ DEC24</text>
<path d="M174.4 6.9 L178.7 12 L183 6.9" fill="none" stroke="#e6e6e6" stroke-width="2.1"/>
<rect x="195.6" y="1.3" width="124" height="18.5" fill="#3f3f46"/>
<text x="202" y="15.1" font-size="12" fill="#dcdcdc" stroke="#dcdcdc" stroke-width="0.2">100 Tick</text>
<path d="M304.4 6.9 L308.7 12 L313 6.9" fill="none" stroke="#e6e6e6" stroke-width="2.1"/>
</g>
<g id="icons" fill="none" stroke="#cfcfcf" stroke-width="1.2">
<g fill="#cfcfcf" stroke="none"><rect x="333.5" y="8" width="3" height="9"/><rect x="334.5" y="17" width="1" height="1.8"/><rect x="338.6" y="4.5" width="3" height="10.7"/><rect x="339.6" y="3" width="1" height="1.6"/><rect x="343.6" y="7.9" width="3" height="9.1"/><rect x="344.6" y="5.8" width="1" height="13"/></g>
<g transform="translate(375.1 18.9) rotate(-136)">
<path d="M0 0 L4.2 -2.1 H20 V2.1 H4.2 Z M4.2 -2.1 V2.1 M17.2 -2.1 V2.1 M18.4 -2.1 V2.1 M4.2 0 H17.2" stroke-width="1.05"/>
<path d="M0 0 L2 -1 V1 Z" fill="#cfcfcf" stroke="none"/>
</g>
<circle cx="392.5" cy="8.7" r="4.9" stroke-width="1.3"/><path d="M389.1 8.7 H395.9 M392.5 5.3 V12.1" stroke-width="1.3"/><path d="M396.4 12.4 L402.4 18.1" stroke-width="2.3" stroke-linecap="round"/>
<g stroke="#6a6a6a"><circle cx="420.7" cy="8.7" r="4.9" stroke-width="1.3"/><path d="M417.4 8.7 H424" stroke-width="1.3"/><path d="M424.6 12.4 L430.4 18.1" stroke-width="2.3" stroke-linecap="round"/></g>
<path d="M446.2 3.8 L446.2 15.6 L448.9 13.2 L451.4 18.6 L453 17.9 L450.6 12.6 L454.2 12.3 Z" stroke-width="1.2" stroke-linejoin="miter"/>
<path d="M482.6 16.6 V18.4 H470.8 V3.6 H478.4 L482.6 7.6 V8.4 M478.2 3.8 V7.8 H482.4" stroke-width="1.2"/>
<path d="M473.3 9.4 H478 M473.3 12.1 H477 M473.3 14.8 H478" stroke-width="1.1"/>
<circle cx="481.6" cy="11.3" r="2.3" stroke-width="1.2"/><path d="M483.4 13.2 L486.2 15.8" stroke-width="1.6"/>
<rect x="498.2" y="3.8" width="3.2" height="2.9" stroke-width="1.1"/><rect x="498.2" y="8.7" width="3.2" height="2.9" stroke-width="1.1"/>
<path d="M501.4 4.4 H513.7 M501.4 9.3 H513.7 M513.7 3 V18.9" stroke-width="1.2"/>
<path d="M529.6 3.6 H526.6 V7.2 M526.6 14.6 V18.3 H529.6 M537.6 3.6 H540.8 V7.2 M540.8 14.6 V18.3 H537.6" stroke-width="1.2"/>
<g fill="#cfcfcf" stroke="none"><rect x="528.3" y="11.2" width="1.7" height="4.6"/><rect x="531.2" y="6.2" width="1.7" height="9.6"/><rect x="534.2" y="7.8" width="1.7" height="8"/><rect x="537.2" y="9.4" width="1.7" height="6.4"/></g>
<path d="M556.3 15.8 L558.3 8.2 M559.6 7.8 L563 12 M564.6 11.8 L567.4 6" stroke-width="1.3"/>
<circle cx="555.8" cy="17" r="1.4" stroke-width="1.1"/><circle cx="558.7" cy="6.7" r="1.4" stroke-width="1.1"/><circle cx="563.8" cy="13" r="1.4" stroke-width="1.1"/><circle cx="568" cy="4.7" r="1.4" stroke-width="1.1"/>
<rect x="583.3" y="4.6" width="13" height="13.8" stroke-width="1.2"/><rect x="586" y="3.2" width="7.6" height="1.9" stroke-width="1"/>
<path d="M586.4 14.6 V11.4 H589 L593 7.6 M590.8 7.4 H593.4 V10" stroke-width="1.2"/>
<path d="M585.6 7.2 L587.4 9 M587.4 7.2 L585.6 9 M591.4 13.4 L593.4 15.4 M593.4 13.4 L591.4 15.4" stroke-width="0.9"/>
<rect x="609.8" y="3.9" width="2.9" height="2.9" stroke-width="1.1"/><rect x="609.8" y="9.8" width="2.9" height="2.9" stroke-width="1.1"/><rect x="609.8" y="15.8" width="2.9" height="2.9" stroke-width="1.1"/>
<path d="M615.3 5.5 H625.2 M615.3 11.4 H625.2 M615.3 17.4 H625.2" stroke-width="1.2"/>
</g>
<defs><linearGradient id="gb" x1="0" x2="1"><stop offset="0" stop-color="#8f8c8c"/><stop offset="0.14" stop-color="#b2aeae"/><stop offset="0.86" stop-color="#b2aeae"/><stop offset="1" stop-color="#8a8787"/></linearGradient><linearGradient id="gv" x1="0" x2="0" y1="0" y2="1"><stop offset="0" stop-color="#ffffff" stop-opacity="0.45"/><stop offset="0.4" stop-color="#ffffff" stop-opacity="0"/><stop offset="1" stop-color="#000000" stop-opacity="0.05"/></linearGradient><linearGradient id="gd" x1="0" x2="0" y1="0" y2="1"><stop offset="0" stop-color="#6e6c6e"/><stop offset="0.4" stop-color="#1c1a1b"/><stop offset="1" stop-color="#1c1a1b"/></linearGradient><linearGradient id="gr" x1="0" x2="0" y1="0" y2="1"><stop offset="0" stop-color="#c4686c"/><stop offset="0.35" stop-color="#a8161c"/><stop offset="1" stop-color="#9c1419"/></linearGradient></defs>
<g id="winbtn">
<rect x="1805.6" y="3.2" width="16" height="15.8" fill="url(#gb)"/><rect x="1805.6" y="3.2" width="16" height="15.8" fill="url(#gv)"/>
<rect x="1824.4" y="3.2" width="16" height="15.8" fill="url(#gb)"/><rect x="1824.4" y="3.2" width="16" height="15.8" fill="url(#gv)"/>
<rect x="1843.6" y="3.6" width="15.2" height="15" fill="url(#gd)" stroke="#626262" stroke-width="1"/>
<rect x="1846.2" y="13.1" width="9.8" height="2.1" fill="#ffffff"/>
<rect x="1862.6" y="3.6" width="15.2" height="15" fill="url(#gd)" stroke="#626262" stroke-width="1"/>
<path d="M1868.8 9.2 V6.8 H1874.6 V11.6 H1872.2" fill="none" stroke="#ffffff" stroke-width="1.8"/>
<rect x="1866" y="10" width="5.6" height="4.6" fill="none" stroke="#ffffff" stroke-width="1.8"/>
<rect x="1881.4" y="3.4" width="15.4" height="15.4" fill="url(#gr)" stroke="#9a5a5e" stroke-width="0.8"/>
<path d="M1885 7 L1893.2 15.2 M1893.2 7 L1885 15.2" stroke="#ffffff" stroke-width="2.9"/>
</g>
</svg>
</body></html>
